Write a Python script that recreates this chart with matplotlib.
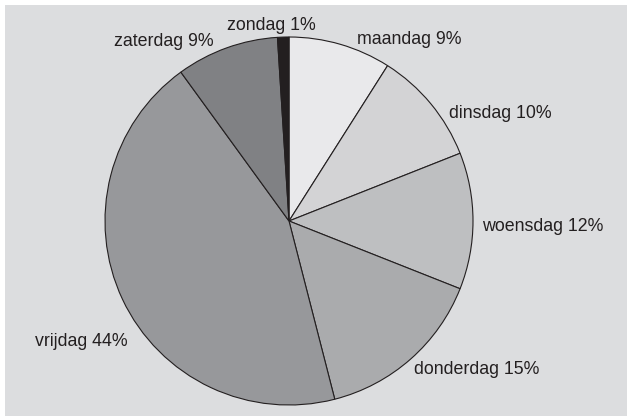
import matplotlib
matplotlib.use("Agg")
import matplotlib.pyplot as plt
from matplotlib.patches import Rectangle

days = ["maandag", "dinsdag", "woensdag", "donderdag", "vrijdag", "zaterdag", "zondag"]
shares = [9, 10, 12, 15, 44, 9, 1]
colors = ["#e9e9eb", "#d3d3d5", "#bebfc1", "#aaabad", "#97989b", "#808184", "#231f20"]

# label centres in pixels (x from left, y from top)
label_pos = [(409, 39), (500, 114), (543, 227), (477, 370), (81, 341), (164, 42), (271, 25)]

W, H = 627, 416
cx, cy, R = 289, 221, 184

fig = plt.figure(figsize=(W / 100, H / 100), dpi=100, facecolor="white")
fig.patches.append(Rectangle((5 / W, 0), 1, (H - 5) / H, transform=fig.transFigure,
                             facecolor="#dcdddf", edgecolor="none", zorder=-10))
ax = fig.add_axes([0, 0, 1, 1])
ax.set_facecolor("none")
ax.pie(shares, colors=colors, startangle=90, counterclock=False, radius=1,
       wedgeprops=dict(edgecolor="#231f20", linewidth=0.8))
ax.set_aspect("auto")
ax.set_xlim(-cx / R, (W - cx) / R)
ax.set_ylim(-(H - cy) / R, cy / R)
ax.axis("off")

for d, s, (px, py) in zip(days, shares, label_pos):
    fig.text(px / W, 1 - py / H, f"{d} {s}%", ha="center", va="center",
             fontsize=12.8, family="Liberation Sans", color="#231f20")

fig.savefig("out.png", dpi=100, facecolor=fig.get_facecolor())
